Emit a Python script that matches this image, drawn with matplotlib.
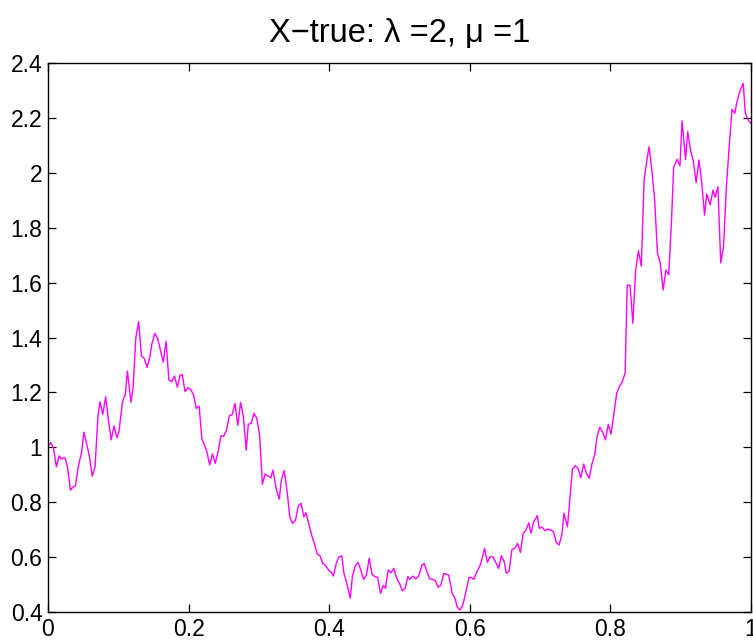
import numpy as np
import matplotlib
matplotlib.use("Agg")
import matplotlib.pyplot as plt
from matplotlib.ticker import FuncFormatter

# sample path (time, value)
t_vals = [
    0.000, 0.004, 0.008, 0.012, 0.016, 0.019, 0.023, 0.025, 0.028, 0.032,
    0.036, 0.039, 0.043, 0.048, 0.051, 0.055, 0.059, 0.063, 0.067, 0.071,
    0.074, 0.078, 0.082, 0.086, 0.090, 0.094, 0.098, 0.101, 0.106, 0.110,
    0.113, 0.118, 0.121, 0.125, 0.129, 0.133, 0.137, 0.141, 0.145, 0.148,
    0.152, 0.156, 0.160, 0.164, 0.168, 0.172, 0.176, 0.180, 0.184, 0.188,
    0.191, 0.195, 0.199, 0.203, 0.207, 0.211, 0.215, 0.219, 0.222, 0.226,
    0.230, 0.234, 0.238, 0.242, 0.246, 0.250, 0.254, 0.258, 0.262, 0.266,
    0.270, 0.274, 0.278, 0.282, 0.285, 0.289, 0.293, 0.297, 0.301, 0.305,
    0.309, 0.313, 0.317, 0.320, 0.325, 0.329, 0.332, 0.336, 0.340, 0.344,
    0.348, 0.352, 0.356, 0.360, 0.364, 0.367, 0.372, 0.376, 0.379, 0.383,
    0.387, 0.391, 0.395, 0.400, 0.403, 0.406, 0.410, 0.414, 0.418, 0.421,
    0.425, 0.430, 0.433, 0.437, 0.441, 0.445, 0.449, 0.453, 0.457, 0.461,
    0.465, 0.469, 0.473, 0.477, 0.480, 0.484, 0.488, 0.492, 0.496, 0.500,
    0.504, 0.508, 0.512, 0.515, 0.519, 0.523, 0.527, 0.532, 0.535, 0.539,
    0.543, 0.547, 0.551, 0.555, 0.559, 0.563, 0.567, 0.570, 0.575, 0.579,
    0.582, 0.586, 0.590, 0.594, 0.599, 0.602, 0.606, 0.610, 0.614, 0.617,
    0.621, 0.625, 0.629, 0.633, 0.637, 0.641, 0.645, 0.649, 0.652, 0.656,
    0.660, 0.664, 0.668, 0.672, 0.676, 0.680, 0.684, 0.687, 0.691, 0.696,
    0.699, 0.703, 0.707, 0.711, 0.715, 0.719, 0.723, 0.727, 0.731, 0.734,
    0.739, 0.743, 0.746, 0.750, 0.754, 0.758, 0.762, 0.766, 0.770, 0.774,
    0.778, 0.781, 0.785, 0.789, 0.793, 0.797, 0.801, 0.805, 0.809, 0.813,
    0.816, 0.821, 0.824, 0.828, 0.832, 0.836, 0.840, 0.844, 0.848, 0.852,
    0.855, 0.859, 0.863, 0.867, 0.871, 0.875, 0.879, 0.883, 0.887, 0.890,
    0.895, 0.899, 0.902, 0.907, 0.910, 0.914, 0.918, 0.922, 0.926, 0.930,
    0.934, 0.937, 0.942, 0.946, 0.949, 0.953, 0.957, 0.961, 0.965, 0.969,
    0.973, 0.977, 0.980, 0.984, 0.989, 0.992, 0.996, 1.000,
]
x_true = [
    1.006, 1.017, 0.996, 0.929, 0.969, 0.957, 0.963, 0.956, 0.923, 0.844,
    0.856, 0.859, 0.929, 0.984, 1.055, 1.014, 0.966, 0.895, 0.929, 1.111,
    1.166, 1.120, 1.184, 1.099, 1.027, 1.078, 1.035, 1.057, 1.166, 1.193,
    1.278, 1.164, 1.215, 1.399, 1.458, 1.333, 1.324, 1.291, 1.330, 1.379,
    1.415, 1.397, 1.354, 1.310, 1.386, 1.245, 1.239, 1.260, 1.219, 1.263,
    1.265, 1.203, 1.217, 1.211, 1.191, 1.142, 1.150, 1.029, 1.014, 0.984,
    0.936, 0.976, 0.942, 0.984, 1.042, 1.041, 1.063, 1.115, 1.119, 1.160,
    1.080, 1.164, 1.111, 0.990, 1.084, 1.087, 1.124, 1.106, 1.045, 0.866,
    0.903, 0.895, 0.889, 0.917, 0.844, 0.811, 0.881, 0.915, 0.844, 0.745,
    0.723, 0.733, 0.787, 0.796, 0.747, 0.762, 0.711, 0.672, 0.650, 0.611,
    0.605, 0.577, 0.569, 0.550, 0.545, 0.531, 0.577, 0.601, 0.605, 0.541,
    0.505, 0.450, 0.529, 0.568, 0.581, 0.553, 0.519, 0.535, 0.596, 0.537,
    0.529, 0.526, 0.468, 0.497, 0.486, 0.553, 0.543, 0.559, 0.523, 0.505,
    0.477, 0.486, 0.529, 0.519, 0.531, 0.521, 0.529, 0.571, 0.577, 0.547,
    0.521, 0.519, 0.514, 0.490, 0.498, 0.541, 0.537, 0.535, 0.468, 0.450,
    0.419, 0.407, 0.425, 0.468, 0.526, 0.526, 0.519, 0.547, 0.565, 0.589,
    0.632, 0.581, 0.601, 0.601, 0.581, 0.559, 0.605, 0.583, 0.541, 0.549,
    0.628, 0.632, 0.650, 0.617, 0.687, 0.699, 0.725, 0.687, 0.729, 0.751,
    0.705, 0.709, 0.696, 0.702, 0.699, 0.693, 0.654, 0.644, 0.681, 0.760,
    0.711, 0.832, 0.920, 0.933, 0.923, 0.889, 0.939, 0.905, 0.887, 0.942,
    0.975, 1.039, 1.073, 1.055, 1.027, 1.084, 1.048, 1.124, 1.197, 1.223,
    1.233, 1.270, 1.591, 1.590, 1.452, 1.646, 1.716, 1.660, 1.974, 2.047,
    2.095, 2.010, 1.901, 1.707, 1.670, 1.573, 1.646, 1.628, 1.828, 2.020,
    2.049, 2.025, 2.189, 2.049, 2.150, 2.083, 2.043, 1.964, 2.047, 1.962,
    1.846, 1.923, 1.883, 1.937, 1.911, 1.949, 1.672, 1.731, 1.949, 2.095,
    2.231, 2.217, 2.259, 2.296, 2.326, 2.217, 2.192, 2.180,
]
x_ticks = [0, 0.2, 0.4, 0.6, 0.8, 1]
y_ticks = [0.4, 0.6, 0.8, 1, 1.2, 1.4, 1.6, 1.8, 2, 2.2, 2.4]
title = "X\u2212true: \u03bb =2, \u03bc =1"

plt.rcParams['font.family'] = ['Liberation Sans', 'DejaVu Sans']

fig = plt.figure(figsize=(7.53, 6.41), dpi=100)
ax = fig.add_axes([0.0637, 0.0452, 0.9336, 0.8565])

ax.plot(t_vals, x_true, color='#ff00ff', lw=1.0)

ax.set_xlim(0, 1)
ax.set_ylim(0.4, 2.4)
ax.set_xticks(x_ticks)
ax.set_yticks(y_ticks)
g = FuncFormatter(lambda v, p: f"{v:g}")
ax.xaxis.set_major_formatter(g)
ax.yaxis.set_major_formatter(g)
ax.tick_params(direction='in', length=6, width=0.9, top=True, right=True,
               labelsize=16.5)
ax.tick_params(axis='x', pad=4)
ax.tick_params(axis='y', pad=4)
for s in ax.spines.values():
    s.set_linewidth(1.0)

ax.set_title(title, fontsize=23.5, pad=15)

fig.savefig("out.png", dpi=100)
